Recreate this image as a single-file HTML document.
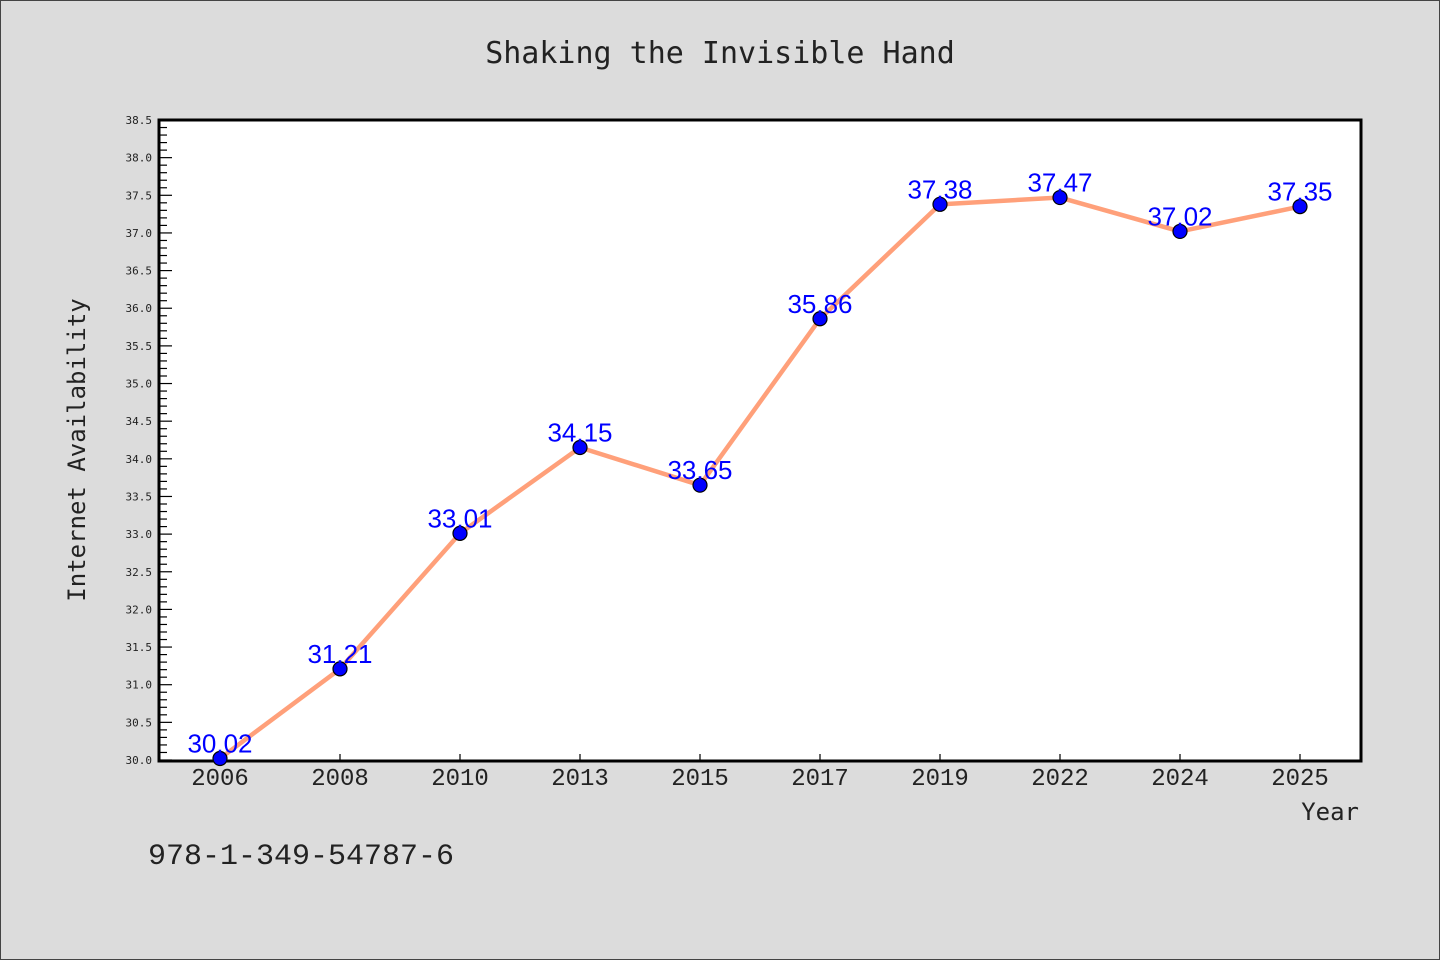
<!DOCTYPE html>
<html><head><meta charset="utf-8"><style>
html,body{margin:0;padding:0;background:#dcdcdc;}
svg{display:block;font-family:"Liberation Sans","DejaVu Sans",sans-serif;}
</style></head><body>
<svg id="chart" width="1440" height="960">
<rect x="0.5" y="0.5" width="1439" height="959" fill="#dcdcdc" stroke="#444"/>
<text x="720" y="63" text-anchor="middle" font-family="DejaVu Sans Mono, Liberation Mono, monospace" font-size="30" fill="#222">Shaking the Invisible Hand</text>
<rect x="159" y="120" width="1202" height="641" fill="#fff" stroke="#000" stroke-width="3"/>
<g id="yaxis"></g>
<g id="xaxis"></g>
<g id="series"></g>
<text transform="translate(85,450) rotate(-90)" text-anchor="middle" font-family="DejaVu Sans Mono, Liberation Mono, monospace" font-size="24" fill="#222">Internet Availability</text>
<text x="1359" y="820" text-anchor="end" font-family="DejaVu Sans Mono, Liberation Mono, monospace" font-size="24" fill="#222">Year</text>
<text x="148" y="864" font-family="Liberation Mono, DejaVu Sans Mono, monospace" font-size="30" fill="#222">978-1-349-54787-6</text>
</svg>
<script>
const categories = ["2006","2008","2010","2013","2015","2017","2019","2022","2024","2025"];
const values = [30.02,31.21,33.01,34.15,33.65,35.86,37.38,37.47,37.02,37.35];
const yTicks = ["30.0","30.5","31.0","31.5","32.0","32.5","33.0","33.5","34.0","34.5","35.0","35.5","36.0","36.5","37.0","37.5","38.0","38.5"];
const NS="http://www.w3.org/2000/svg";
const yMin=30, yMax=38.5, plotTop=120, plotBottom=760, plotLeft=159;
function yScale(v){return plotBottom-(v-yMin)/(yMax-yMin)*(plotBottom-plotTop);}
function xScale(i){return 220+i*120;}
function mk(tag,attrs,parent){const e=document.createElementNS(NS,tag);for(const k in attrs)e.setAttribute(k,attrs[k]);parent.appendChild(e);return e;}
const ya=document.getElementById('yaxis');
for(let k=0;k<=85;k++){const v=yMin+k*0.1;const major=k%5===0;
  const t=mk('line',{x1:plotLeft,x2:plotLeft+(major?13:8),y1:yScale(v),y2:yScale(v),stroke:'#000','stroke-width':1.2},ya);
  
  }
yTicks.forEach(s=>{const t=mk('text',{x:152,y:yScale(parseFloat(s))+4,'text-anchor':'end','font-size':11,'font-family':'DejaVu Sans Mono, monospace',fill:'#222'},ya);t.textContent=s;
  
  });
const xa=document.getElementById('xaxis');
categories.forEach((c,i)=>{const l=mk('line',{x1:xScale(i),x2:xScale(i),y1:761,y2:754,stroke:'#000','stroke-width':1.2},xa);
  
  
  const t=mk('text',{x:xScale(i),y:785,'text-anchor':'middle','font-size':24,'font-family':'Liberation Mono, monospace',fill:'#222'},xa);t.textContent=c;
  
  });
const sg=document.getElementById('series');
const pl=mk('polyline',{points:values.map((v,i)=>xScale(i)+','+yScale(v)).join(' '),fill:'none',stroke:'#ffa07a','stroke-width':4.5,'stroke-linejoin':'round'},sg);


values.forEach((v,i)=>{const c=mk('circle',{cx:xScale(i),cy:yScale(v),r:7,fill:'#0000ff',stroke:'#000','stroke-width':1.2},sg);
  
  
  const t=mk('text',{x:xScale(i),y:yScale(v)-6,'text-anchor':'middle','font-size':26,fill:'#0000ff'},sg);t.textContent=v.toFixed(2);
  
  });
</script>
</body></html>
